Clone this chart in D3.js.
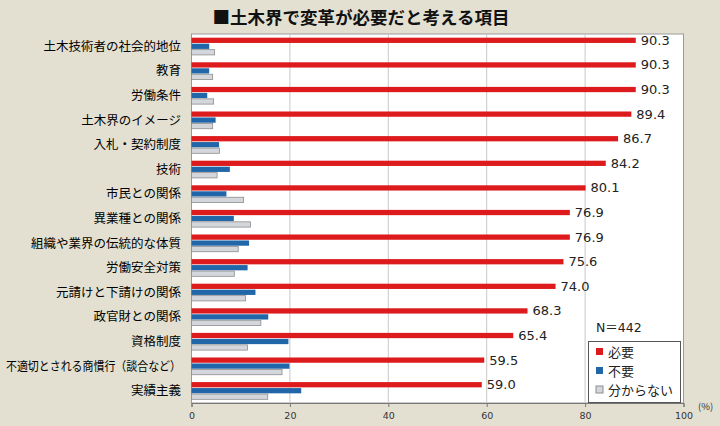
<!DOCTYPE html>
<html><head><meta charset="utf-8">
<script src="https://cdn.jsdelivr.net/npm/d3@7"></script>
<style>
html,body{margin:0;padding:0;background:#e3e0d2;}
svg{display:block;font-family:"Noto Sans CJK JP","Noto Sans",sans-serif;}
</style></head><body>
<svg id="chart" width="720" height="426"></svg>
<script>
const categories = ["土木技術者の社会的地位","教育","労働条件","土木界のイメージ","入札・契約制度","技術","市民との関係","異業種との関係","組織や業界の伝統的な体質","労働安全対策","元請けと下請けの関係","政官財との関係","資格制度","不適切とされる商慣行（談合など）","実績主義"];
const needed   = [90.3,90.3,90.3,89.4,86.7,84.2,80.1,76.9,76.9,75.6,74.0,68.3,65.4,59.5,59.0];
const unneeded = [3.6,3.6,3.2,4.9,5.6,7.8,7.1,8.6,11.7,11.4,13.0,15.6,19.7,19.9,22.3];
const unknown  = [4.7,4.3,4.5,4.3,5.7,5.2,10.6,12.0,9.5,8.7,11.0,14.1,11.4,18.4,15.5];
const seriesNames = ["必要","不要","分からない"];
const xTicks = [0,20,40,60,80,100];
const title = "■土木界で変革が必要だと考える項目";
const nLabel = "N＝442";

const svg = d3.select("#chart");
const L = 191.5, R = 683.5, T = 34, B = 403;
const x = d3.scaleLinear().domain([0,100]).range([L,R]);
const y = d3.scaleBand().domain(categories).range([T,B]).paddingInner(0.3).paddingOuter(0.15);
const sub = d3.scaleBand().domain(seriesNames).range([0,y.bandwidth()]).paddingInner(0.12);
const colors = {"必要":"#dd1a1c","不要":"#2166a8","分からない":"#d3d7db"};
const strokes = {"必要":"none","不要":"none","分からない":"#8d8d8d"};

svg.append("text").attr("x",361).attr("y",24).attr("text-anchor","middle")
  .attr("font-size",17.5).attr("font-weight","bold").attr("fill","#111").text(title);

svg.append("rect").attr("x",L).attr("y",T).attr("width",R-L).attr("height",B-T)
  .attr("fill","#fff").attr("stroke","#9a9a9a");

svg.append("g").selectAll("line").data(xTicks.slice(1,-1)).join("line")
  .attr("x1",d=>x(d)).attr("x2",d=>x(d)).attr("y1",T).attr("y2",B)
  .attr("stroke","#c8c8c8");

const series = [needed, unneeded, unknown];
series.forEach((vals,si)=>{
  const name = seriesNames[si];
  svg.append("g").selectAll("rect").data(vals).join("rect")
    .attr("x",x(0)).attr("y",(d,i)=>y(categories[i])+sub(name))
    .attr("width",d=>x(d)-x(0)).attr("height",sub.bandwidth())
    .attr("fill",colors[name]).attr("stroke",strokes[name]).attr("stroke-width",0.8);
});

svg.append("g").selectAll("text").data(needed).join("text")
  .attr("x",d=>x(d)+5).attr("y",(d,i)=>y(categories[i])+sub("必要")+sub.bandwidth()/2+4.5)
  .attr("font-size",13).attr("fill","#222").attr("font-family","'DejaVu Sans','Noto Sans',sans-serif")
  .text(d=>d.toFixed(1));

const labels = svg.append("g").selectAll("text").data(categories).join("text")
  .attr("x",181).attr("y",d=>y(d)+y.bandwidth()/2+4.5).attr("text-anchor","end")
  .attr("font-size",12.5).attr("fill","#000").text(d=>d);
labels.each(function(){ const w=this.getComputedTextLength(); if(w>175){ d3.select(this).attr("textLength",175).attr("lengthAdjust","spacingAndGlyphs"); }});

const axis = d3.axisBottom(x).tickValues(xTicks).tickSize(4).tickFormat(d3.format("d"));
const ag = svg.append("g").attr("transform",`translate(0,${B})`).call(axis);
ag.select(".domain").attr("stroke","#777");
ag.selectAll(".tick line").attr("stroke","#777");
ag.selectAll(".tick text").attr("font-size",9.5).attr("fill","#333").attr("dy","0.9em")
  .attr("font-family","'DejaVu Sans',sans-serif");
svg.append("text").attr("x",698).attr("y",410).attr("font-size",9.5).attr("fill","#333").text("(%)");

svg.append("text").attr("x",596).attr("y",332).attr("font-size",12.5).attr("fill","#222")
  .attr("font-family","'DejaVu Sans','Noto Sans CJK JP',sans-serif").text(nLabel);

const lg = svg.append("g");
lg.append("rect").attr("x",588.5).attr("y",341.5).attr("width",92).attr("height",61)
  .attr("fill","#fff").attr("stroke","#555");
seriesNames.forEach((n,i)=>{
  const yy = 352 + i*19;
  lg.append("rect").attr("x",596).attr("y",yy-4).attr("width",7).attr("height",7)
    .attr("fill",colors[n]).attr("stroke",n==="分からない"?"#8d8d8d":"none");
  lg.append("text").attr("x",608).attr("y",yy+5).attr("font-size",13).attr("fill","#222").text(n);
});
</script></body></html>
